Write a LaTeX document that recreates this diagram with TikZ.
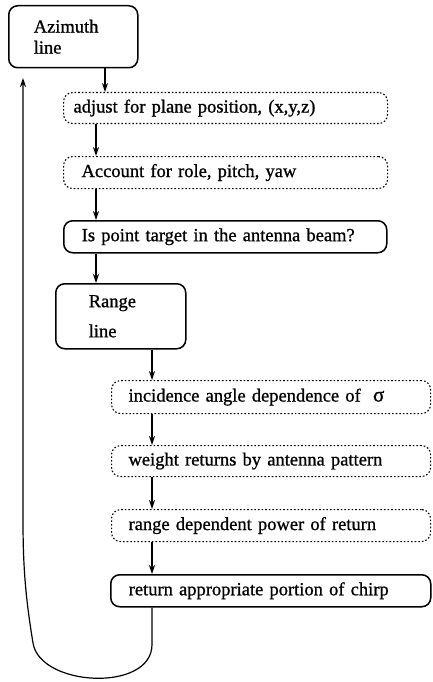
\documentclass[tikz,border=0pt]{standalone}
\usepackage{fontspec}
\setmainfont{Liberation Serif}[FakeBold=0.9]
\usetikzlibrary{arrows.meta}

\tikzset{
    stage/.style={draw, line width=1.5pt, rounded corners=9pt, align=left,
        inner ysep=0pt, font=\fontsize{18.5}{21}\selectfont},
    dotstage/.style={stage, line width=1.1pt, dash pattern=on 1.6pt off 2pt},
    arr/.style={line width=1.2pt, -{Stealth[length=9pt,width=6pt]}}
}

\begin{document}
\begin{tikzpicture}[x=1pt, y=-1pt]
    \useasboundingbox (0,0) rectangle (432,682);

    % outer loop
    \node[stage, anchor=north west, text width=79pt, inner xsep=25pt, minimum height=62pt] (az) at (8,5) {Azimuth\\line};
    \node[dotstage, anchor=north west, text width=304pt, inner xsep=10pt, minimum height=31pt] (adj) at (63,92) {adjust for plane position, (x,y,z)};
    \node[dotstage, anchor=north west, text width=288pt, inner xsep=18pt, minimum height=32pt] (acc) at (63,156) {Account for role, pitch, yaw};
    \node[stage, anchor=north west, text width=287pt, inner xsep=18pt, minimum height=32pt] (beam) at (63,220) {Is point target in the antenna beam?};

    % inner loop
    \node[stage, anchor=north west, text width=64pt, inner xsep=33pt, minimum height=65pt] (range) at (55,283) {Range\\[9pt]line};
    \node[dotstage, anchor=north west, text width=285pt, inner xsep=17pt, minimum height=33pt] (inc) at (111,380) {incidence angle dependence of \ {\fontsize{21}{21}\selectfont σ}};
    \node[dotstage, anchor=north west, text width=285pt, inner xsep=17pt, minimum height=31pt] (wt) at (111,445) {weight returns by antenna pattern};
    \node[dotstage, anchor=north west, text width=285pt, inner xsep=17pt, minimum height=32pt] (pow) at (111,509) {range dependent power of return};
    \node[stage, anchor=north west, text width=284pt, inner xsep=18pt, minimum height=32pt] (ret) at (110,574) {return appropriate portion of chirp};

    \coordinate (c0) at (105,0);
    \coordinate (c1) at (96,0);
    \coordinate (c2) at (152,0);
    \coordinate (back) at (23,78);

    \draw[arr] (az.south -| c0) -- (adj.north -| c0);
    \foreach \a/\b in {adj/acc, acc/beam, beam/range}{
        \draw[arr] (\a.south -| c1) -- (\b.north -| c1);
    }
    \foreach \a/\b in {range/inc, inc/wt, wt/pow, pow/ret}{
        \draw[arr] (\a.south -| c2) -- (\b.north -| c2);
    }

    % back to the next azimuth line
    \draw[arr] (ret.south -| c2) -- ++(0,37)
        .. controls +(0,48) and +(7,44) .. (33,643)
        .. controls (26,600) and (23,570) .. (23,520) -- (back);
\end{tikzpicture}
\end{document}
